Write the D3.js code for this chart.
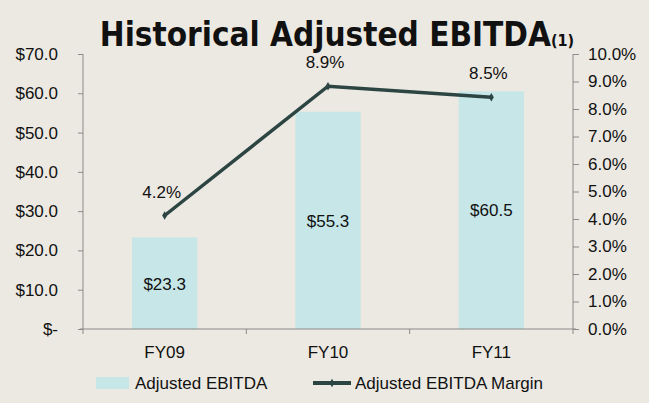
<!DOCTYPE html>
<html>
<head>
<meta charset="utf-8">
<script src="https://cdn.jsdelivr.net/npm/d3@7"></script>
<style>
  body { margin: 0; background: #ece9e2; }
  svg { display: block; }
  text { font-family: "Liberation Sans", Arial, sans-serif; fill: #111; }
</style>
</head>
<body>
<div class="canva"></div>
<script>
const years = ["FY09", "FY10", "FY11"];
const ebitda = [23.3, 55.3, 60.5];
const margin = [4.2, 8.9, 8.5];
const leftTicks = [0, 10, 20, 30, 40, 50, 60, 70];
const rightTicks = [0, 1, 2, 3, 4, 5, 6, 7, 8, 9, 10];

const WIDTH = 649, HEIGHT = 403;
const MARGIN = { TOP: 54, BOTTOM: 74, LEFT: 83, RIGHT: 76 };
const FONT = "'Liberation Sans', Arial, sans-serif";

const svg = d3.select(".canva").append("svg")
    .attr("width", WIDTH)
    .attr("height", HEIGHT);

svg.append("rect").attr("width", WIDTH).attr("height", HEIGHT).attr("fill", "#ece9e2");

const x = d3.scaleBand().domain(years)
    .range([MARGIN.LEFT, WIDTH - MARGIN.RIGHT])
    .paddingInner(0.6).paddingOuter(0.3);
const yL = d3.scaleLinear().domain([0, 70]).range([HEIGHT - MARGIN.BOTTOM, MARGIN.TOP]);
const yR = d3.scaleLinear().domain([0, 10]).range([HEIGHT - MARGIN.BOTTOM, MARGIN.TOP]);

// title
const title = svg.append("text")
    .attr("x", 337).attr("y", 46)
    .attr("text-anchor", "middle")
    .style("font-family", "'DejaVu Sans Condensed', 'DejaVu Sans', sans-serif")
    .style("font-weight", "bold")
    .style("font-size", "33px");
title.append("tspan").text("Historical Adjusted EBITDA");
title.append("tspan").style("font-size", "16px").text("(1)");

// bars
svg.append("g").selectAll("rect").data(ebitda).enter().append("rect")
    .attr("x", (d, i) => x(years[i]))
    .attr("width", x.bandwidth())
    .attr("y", d => yL(d))
    .attr("height", d => yL(0) - yL(d))
    .attr("fill", "#c6e6e8");

const fmtD = d => d === 0 ? "$-" : "$" + d.toFixed(1);
const fmtP = d => d.toFixed(1) + "%";

// axes
const axisColor = "#8a8a8a";
const gL = svg.append("g").attr("transform", `translate(${MARGIN.LEFT},0)`)
    .call(d3.axisLeft(yL).tickValues(leftTicks).tickFormat(fmtD).tickSize(5).tickPadding(20));
const gR = svg.append("g").attr("transform", `translate(${WIDTH - MARGIN.RIGHT},0)`)
    .call(d3.axisRight(yR).tickValues(rightTicks).tickFormat(fmtP).tickSize(6).tickPadding(9));
const gB = svg.append("g").attr("transform", `translate(0,${yL(0)})`)
    .call(d3.axisBottom(x).tickSize(0).tickPadding(17));

[gL, gR, gB].forEach(g => {
    g.select(".domain").attr("stroke", axisColor);
    g.selectAll(".tick line").attr("stroke", axisColor);
    g.selectAll("text").style("font-size", "17px").style("font-family", FONT).attr("fill", "#111");
});
gL.select(".domain").attr("d", `M0,${MARGIN.TOP}V${yL(0)}`);
gR.select(".domain").attr("d", `M0,${MARGIN.TOP}V${yL(0)}`);
gB.select(".domain").attr("d", `M${MARGIN.LEFT - 3},0H${WIDTH - MARGIN.RIGHT + 3}`);

// category separators on x axis
const step = (WIDTH - MARGIN.LEFT - MARGIN.RIGHT) / years.length;
gB.selectAll(".sep").data(d3.range(years.length + 1)).enter().append("line")
    .attr("x1", i => MARGIN.LEFT + i * step).attr("x2", i => MARGIN.LEFT + i * step)
    .attr("y1", 0).attr("y2", 5).attr("stroke", axisColor);

// bar labels
svg.append("g").selectAll("text").data(ebitda).enter().append("text")
    .attr("x", (d, i) => x(years[i]) + x.bandwidth() / 2)
    .attr("y", (d, i) => [290, 227, 216][i])
    .attr("text-anchor", "middle")
    .style("font-size", "17px")
    .text(d => "$" + d.toFixed(1));

// margin line
const cx = (d, i) => x(years[i]) + x.bandwidth() / 2;
const line = d3.line().x(cx).y(d => yR(d) + 2);
svg.append("path").datum(margin)
    .attr("d", line)
    .attr("fill", "none")
    .attr("stroke", "#2c4543")
    .attr("stroke-width", 3.5);
svg.append("g").selectAll("path").data(margin).enter().append("path")
    .attr("d", d3.symbol(d3.symbolDiamond, 22))
    .attr("transform", (d, i) => `translate(${cx(d, i)},${yR(d) + 2})`)
    .attr("fill", "#2c4543");

svg.append("g").selectAll("text").data(margin).enter().append("text")
    .attr("x", (d, i) => cx(d, i) - 3)
    .attr("y", d => yR(d) - 16)
    .attr("text-anchor", "middle")
    .style("font-size", "17px")
    .text(fmtP);

// legend
const leg = svg.append("g").attr("transform", "translate(0,383)");
leg.append("rect").attr("x", 96).attr("y", -6).attr("width", 33).attr("height", 12).attr("fill", "#c6e6e8");
leg.append("text").attr("x", 135).attr("y", 6).style("font-size", "17px").text("Adjusted EBITDA");
leg.append("line").attr("x1", 313).attr("x2", 351).attr("y1", 0).attr("y2", 0)
    .attr("stroke", "#2c4543").attr("stroke-width", 4);
leg.append("path").attr("d", d3.symbol(d3.symbolDiamond, 22)).attr("transform", "translate(332,0)").attr("fill", "#2c4543");
leg.append("text").attr("x", 355).attr("y", 6).style("font-size", "17px").text("Adjusted EBITDA Margin");
</script>
</body>
</html>
